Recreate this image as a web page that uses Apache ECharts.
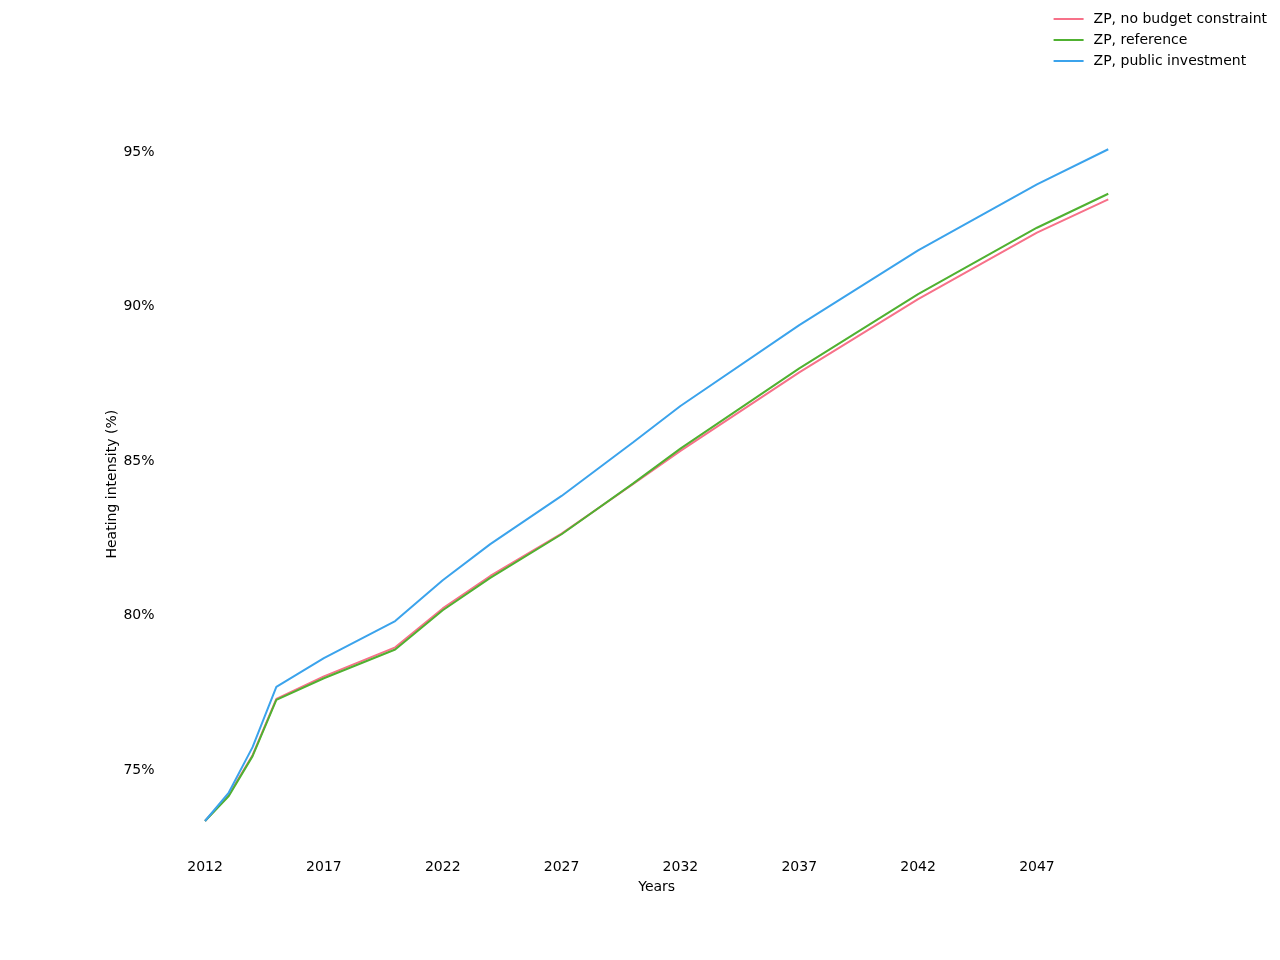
<!DOCTYPE html>
<html>
<head>
<meta charset="utf-8">
<script src="https://cdn.jsdelivr.net/npm/echarts@6/dist/echarts.min.js"></script>
<style>
html,body{margin:0;padding:0;background:#fff;}
#chart{width:1280px;height:960px;}
</style>
</head>
<body>
<div id="chart"></div>
<script>
const years = [2012, 2013, 2014, 2015, 2017, 2020, 2022, 2024, 2027, 2030, 2032, 2037, 2042, 2047, 2050];
const noBudget = [73.35, 74.2, 75.48, 77.3, 78.03, 78.97, 80.23, 81.28, 82.65, 84.25, 85.33, 87.87, 90.24, 92.39, 93.47];
const reference = [73.35, 74.16, 75.45, 77.27, 77.97, 78.9, 80.17, 81.22, 82.63, 84.27, 85.4, 88.0, 90.4, 92.55, 93.65];
const publicInv = [73.35, 74.27, 75.74, 77.69, 78.62, 79.82, 81.14, 82.31, 83.87, 85.6, 86.78, 89.4, 91.82, 93.95, 95.09];
const seriesNames = ['ZP, no budget constraint', 'ZP, reference', 'ZP, public investment'];
const colors = ['#f77189', '#50b131', '#3ba3ec'];
const xTickLabels = [2012, 2017, 2022, 2027, 2032, 2037, 2042, 2047];
const yTickLabels = [75, 80, 85, 90, 95];

const font = 'DejaVu Sans';
const pair = arr => years.map((y, i) => [y, arr[i]]);
const allSeries = [noBudget, reference, publicInv].map((arr, i) => ({
  name: seriesNames[i],
  type: 'line',
  data: pair(arr),
  symbol: 'none',
  lineStyle: { width: 2, color: colors[i] },
  itemStyle: { color: colors[i] },
  z: 2 + i
}));

const chart = echarts.init(document.getElementById('chart'));
chart.setOption({
  animation: false,
  backgroundColor: '#fff',
  textStyle: { fontFamily: font },
  grid: { left: 157.5, right: 124.2, top: 113.4, bottom: 105 },
  legend: {
    orient: 'vertical',
    right: 8,
    top: 7,
    icon: 'rect',
    itemWidth: 30,
    itemHeight: 2,
    itemGap: 7,
    textStyle: { fontFamily: font, fontSize: 14, color: '#000', padding: [0, 0, 0, 5] },
    data: seriesNames
  },
  xAxis: {
    type: 'value',
    min: 2010,
    max: 2052,
    interval: 1,
    name: 'Years',
    nameLocation: 'middle',
    nameGap: 25,
    nameTextStyle: { fontFamily: font, fontSize: 14, color: '#000' },
    axisLine: { show: false },
    axisTick: { show: false },
    splitLine: { show: false },
    axisLabel: {
      margin: 5,
      fontFamily: font, fontSize: 14, color: '#000',
      formatter: v => xTickLabels.indexOf(Math.round(v)) >= 0 && Math.abs(v - Math.round(v)) < 1e-6 ? String(Math.round(v)) : ''
    }
  },
  yAxis: {
    type: 'value',
    min: 72.25,
    max: 96.25,
    interval: 0.25,
    name: 'Heating intensity (%)',
    nameLocation: 'middle',
    nameGap: 38,
    nameMoveOverlap: false,
    nameTextStyle: { fontFamily: font, fontSize: 14, color: '#000' },
    axisLine: { show: false },
    axisTick: { show: false },
    splitLine: { show: false },
    axisLabel: {
      margin: 3,
      fontFamily: font, fontSize: 14, color: '#000',
      formatter: v => {
        const r = Math.round(v);
        return Math.abs(v - r) < 1e-6 && yTickLabels.indexOf(r) >= 0 ? r + '%' : '';
      }
    }
  },
  series: allSeries
});
</script>
</body>
</html>
